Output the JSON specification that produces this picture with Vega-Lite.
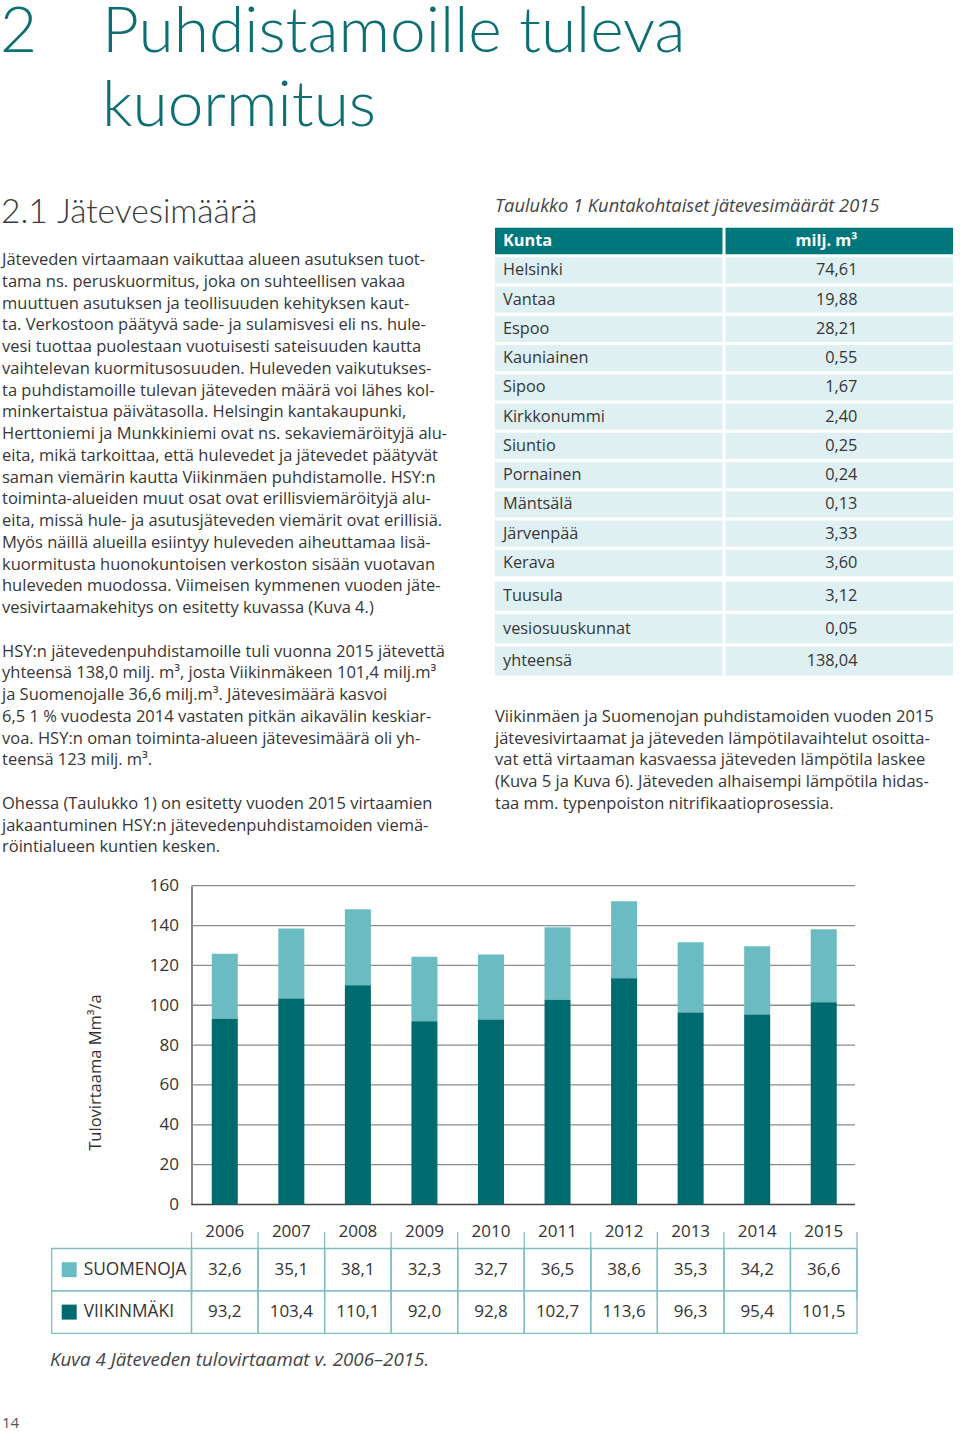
{
  "$schema": "https://vega.github.io/schema/vega-lite/v6.json",
  "width": 960,
  "height": 1431,
  "autosize": {"type": "fit", "contains": "padding"},
  "padding": 0,
  "background": "#ffffff",
  "config": {
    "view": {"stroke": null},
    "locale": {"number": {"decimal": ",", "thousands": "\u00a0", "grouping": [3], "currency": ["", "\u00a0€"]}},
    "text": {"font": "Open Sans", "fontSize": 16.5, "color": "#363636"}
  },
  "datasets": {
    "flow": [
      {"year": "2006", "series": "SUOMENOJA", "value": 32.6},
      {"year": "2006", "series": "VIIKINMÄKI", "value": 93.2},
      {"year": "2007", "series": "SUOMENOJA", "value": 35.1},
      {"year": "2007", "series": "VIIKINMÄKI", "value": 103.4},
      {"year": "2008", "series": "SUOMENOJA", "value": 38.1},
      {"year": "2008", "series": "VIIKINMÄKI", "value": 110.1},
      {"year": "2009", "series": "SUOMENOJA", "value": 32.3},
      {"year": "2009", "series": "VIIKINMÄKI", "value": 92.0},
      {"year": "2010", "series": "SUOMENOJA", "value": 32.7},
      {"year": "2010", "series": "VIIKINMÄKI", "value": 92.8},
      {"year": "2011", "series": "SUOMENOJA", "value": 36.5},
      {"year": "2011", "series": "VIIKINMÄKI", "value": 102.7},
      {"year": "2012", "series": "SUOMENOJA", "value": 38.6},
      {"year": "2012", "series": "VIIKINMÄKI", "value": 113.6},
      {"year": "2013", "series": "SUOMENOJA", "value": 35.3},
      {"year": "2013", "series": "VIIKINMÄKI", "value": 96.3},
      {"year": "2014", "series": "SUOMENOJA", "value": 34.2},
      {"year": "2014", "series": "VIIKINMÄKI", "value": 95.4},
      {"year": "2015", "series": "SUOMENOJA", "value": 36.6},
      {"year": "2015", "series": "VIIKINMÄKI", "value": 101.5}
    ],
    "kunta": [
      {"kunta": "Kunta", "val": null, "unit": "milj. m³", "part": "A", "kind": "head"},
      {"kunta": "Helsinki", "val": 74.61, "part": "A", "kind": "row"},
      {"kunta": "Vantaa", "val": 19.88, "part": "A", "kind": "row"},
      {"kunta": "Espoo", "val": 28.21, "part": "A", "kind": "row"},
      {"kunta": "Kauniainen", "val": 0.55, "part": "A", "kind": "row"},
      {"kunta": "Sipoo", "val": 1.67, "part": "A", "kind": "row"},
      {"kunta": "Kirkkonummi", "val": 2.40, "part": "A", "kind": "row"},
      {"kunta": "Siuntio", "val": 0.25, "part": "A", "kind": "row"},
      {"kunta": "Pornainen", "val": 0.24, "part": "A", "kind": "row"},
      {"kunta": "Mäntsälä", "val": 0.13, "part": "A", "kind": "row"},
      {"kunta": "Järvenpää", "val": 3.33, "part": "A", "kind": "row"},
      {"kunta": "Kerava", "val": 3.60, "part": "A", "kind": "row"},
      {"kunta": "Tuusula", "val": 3.12, "part": "B", "kind": "row"},
      {"kunta": "vesiosuuskunnat", "val": 0.05, "part": "B", "kind": "row"},
      {"kunta": "yhteensä", "val": 138.04, "part": "B", "kind": "row"}
    ],
    "body": [
      {"block": "L", "ln": 0, "t": "Jäteveden virtaamaan vaikuttaa alueen asutuksen tuot-"},
      {"block": "L", "ln": 1, "t": "tama ns. peruskuormitus, joka on suhteellisen vakaa"},
      {"block": "L", "ln": 2, "t": "muuttuen asutuksen ja teollisuuden kehityksen kaut-"},
      {"block": "L", "ln": 3, "t": "ta. Verkostoon päätyvä sade- ja sulamisvesi eli ns. hule-"},
      {"block": "L", "ln": 4, "t": "vesi tuottaa puolestaan vuotuisesti sateisuuden kautta"},
      {"block": "L", "ln": 5, "t": "vaihtelevan kuormitusosuuden. Huleveden vaikutukses-"},
      {"block": "L", "ln": 6, "t": "ta puhdistamoille tulevan jäteveden määrä voi lähes kol-"},
      {"block": "L", "ln": 7, "t": "minkertaistua päivätasolla. Helsingin kantakaupunki,"},
      {"block": "L", "ln": 8, "t": "Herttoniemi ja Munkkiniemi ovat ns. sekaviemäröityjä alu-"},
      {"block": "L", "ln": 9, "t": "eita, mikä tarkoittaa, että hulevedet ja jätevedet päätyvät"},
      {"block": "L", "ln": 10, "t": "saman viemärin kautta Viikinmäen puhdistamolle. HSY:n"},
      {"block": "L", "ln": 11, "t": "toiminta-alueiden muut osat ovat erillisviemäröityjä alu-"},
      {"block": "L", "ln": 12, "t": "eita, missä hule- ja asutusjäteveden viemärit ovat erillisiä."},
      {"block": "L", "ln": 13, "t": "Myös näillä alueilla esiintyy huleveden aiheuttamaa lisä-"},
      {"block": "L", "ln": 14, "t": "kuormitusta huonokuntoisen verkoston sisään vuotavan"},
      {"block": "L", "ln": 15, "t": "huleveden muodossa. Viimeisen kymmenen vuoden jäte-"},
      {"block": "L", "ln": 16, "t": "vesivirtaamakehitys on esitetty kuvassa (Kuva 4.)"},
      {"block": "L", "ln": 18, "t": "HSY:n jätevedenpuhdistamoille tuli vuonna 2015 jätevettä"},
      {"block": "L", "ln": 19, "t": "yhteensä 138,0 milj. m³, josta Viikinmäkeen 101,4 milj.m³"},
      {"block": "L", "ln": 20, "t": "ja Suomenojalle 36,6 milj.m³. Jätevesimäärä kasvoi"},
      {"block": "L", "ln": 21, "t": "6,5 1 % vuodesta 2014 vastaten pitkän aikavälin keskiar-"},
      {"block": "L", "ln": 22, "t": "voa. HSY:n oman toiminta-alueen jätevesimäärä oli yh-"},
      {"block": "L", "ln": 23, "t": "teensä 123 milj. m³."},
      {"block": "L", "ln": 25, "t": "Ohessa (Taulukko 1) on esitetty vuoden 2015 virtaamien"},
      {"block": "L", "ln": 26, "t": "jakaantuminen HSY:n jätevedenpuhdistamoiden viemä-"},
      {"block": "L", "ln": 27, "t": "röintialueen kuntien kesken."},
      {"block": "R", "ln": 21, "t": "Viikinmäen ja Suomenojan puhdistamoiden vuoden 2015"},
      {"block": "R", "ln": 22, "t": "jätevesivirtaamat ja jäteveden lämpötilavaihtelut osoitta-"},
      {"block": "R", "ln": 23, "t": "vat että virtaaman kasvaessa jäteveden lämpötila laskee"},
      {"block": "R", "ln": 24, "t": "(Kuva 5 ja Kuva 6). Jäteveden alhaisempi lämpötila hidas-"},
      {"block": "R", "ln": 25, "t": "taa mm. typenpoiston nitrifikaatioprosessia."}
    ],
    "ticks": [{"v": 0}, {"v": 20}, {"v": 40}, {"v": 60}, {"v": 80}, {"v": 100}, {"v": 120}, {"v": 140}, {"v": 160}]
  },
  "layer": [
    {
      "data": {"values": [{"part": "num", "ln": 0, "t": "2"}, {"part": "head", "ln": 0, "t": "Puhdistamoille tuleva"}, {"part": "head", "ln": 1, "t": "kuormitus"}]},
      "mark": {"type": "text", "font": "Lato", "fontWeight": 300, "fontSize": 64, "color": "#0d6e73", "align": "left", "baseline": "alphabetic"},
      "encoding": {
        "x": {"field": "part", "type": "nominal", "sort": null, "scale": {"type": "point", "domain": ["num", "head"], "range": [0, 102], "padding": 0}, "axis": null},
        "y": {"field": "ln", "type": "quantitative", "scale": {"domain": [0, 1], "range": [52, 126], "nice": false, "zero": false}, "axis": null},
        "text": {"field": "t"}
      }
    },
    {
      "data": {"values": [{"part": "num", "t": "2.1"}, {"part": "head", "t": "Jätevesimäärä"}]},
      "mark": {"type": "text", "font": "Lato", "fontWeight": 300, "fontSize": 33.5, "color": "#3a3a3a", "align": "left", "baseline": "alphabetic"},
      "encoding": {
        "x": {"field": "part", "type": "nominal", "sort": null, "scale": {"type": "point", "domain": ["num", "head"], "range": [1, 57], "padding": 0}, "axis": null},
        "y": {"datum": 0, "type": "quantitative", "scale": {"domain": [0, 1], "range": [223, 300], "nice": false}, "axis": null},
        "text": {"field": "t"}
      }
    },
    {
      "data": {"name": "body"},
      "mark": {"type": "text", "align": "left", "baseline": "middle", "fontSize": 16.5},
      "encoding": {
        "x": {"field": "block", "type": "nominal", "scale": {"type": "point", "domain": ["L", "R"], "range": [2, 495], "padding": 0}, "axis": null},
        "y": {"field": "ln", "type": "quantitative", "scale": {"domain": [0, 27], "range": [260, 847.25], "nice": false, "zero": false}, "axis": null},
        "text": {"field": "t"}
      }
    },
    {
      "data": {"values": [{"t": "Taulukko 1 Kuntakohtaiset jätevesimäärät 2015"}]},
      "mark": {"type": "text", "align": "left", "baseline": "middle", "fontSize": 18.3, "fontStyle": "italic", "color": "#444444"},
      "encoding": {
        "x": {"datum": 0, "type": "quantitative", "scale": {"domain": [0, 1], "range": [495, 600]}, "axis": null},
        "y": {"datum": 0, "type": "quantitative", "scale": {"domain": [0, 1], "range": [207, 300]}, "axis": null},
        "text": {"field": "t"}
      }
    },
    {
      "data": {"name": "kunta"},
      "transform": [{"filter": "datum.part === 'A'"}],
      "encoding": {
        "y": {"field": "kunta", "type": "nominal", "sort": null, "scale": {"range": [226.4, 577.6], "paddingInner": 0.1, "paddingOuter": 0.05}, "axis": null}
      },
      "layer": [
        {"mark": {"type": "rect"}, "encoding": {
          "x": {"datum": "k", "type": "nominal", "scale": {"domain": ["k", "v"], "range": [495, 953], "paddingInner": 0.013, "paddingOuter": 0}, "axis": null},
          "color": {"condition": {"test": "datum.kind === 'head'", "value": "#00777b"}, "value": "#dff0f3"}}},
        {"mark": {"type": "rect"}, "encoding": {
          "x": {"datum": "v", "type": "nominal", "scale": {"domain": ["k", "v"], "range": [495, 953], "paddingInner": 0.013, "paddingOuter": 0}, "axis": null},
          "color": {"condition": {"test": "datum.kind === 'head'", "value": "#00777b"}, "value": "#dff0f3"}}},
        {"transform": [{"filter": "datum.kind !== 'head'"}], "mark": {"type": "text", "align": "left", "dx": 8, "fontSize": 16.3}, "encoding": {
          "x": {"datum": "k", "type": "nominal", "bandPosition": 0, "axis": null},
          "text": {"field": "kunta"}}},
        {"transform": [{"filter": "datum.kind !== 'head'"}], "mark": {"type": "text", "align": "right", "fontSize": 16.3}, "encoding": {
          "x": {"datum": "v", "type": "nominal", "bandPosition": 0.58, "axis": null},
          "text": {"field": "val", "type": "quantitative", "format": ".2f"}}},
        {"transform": [{"filter": "datum.kind === 'head'"}], "mark": {"type": "text", "align": "left", "dx": 8, "fontSize": 16.3, "fontWeight": "bold", "color": "#ffffff"}, "encoding": {
          "x": {"datum": "k", "type": "nominal", "bandPosition": 0, "axis": null},
          "text": {"field": "kunta"}}},
        {"transform": [{"filter": "datum.kind === 'head'"}], "mark": {"type": "text", "align": "right", "fontSize": 16.3, "fontWeight": "bold", "color": "#ffffff"}, "encoding": {
          "x": {"datum": "v", "type": "nominal", "bandPosition": 0.58, "axis": null},
          "text": {"field": "unit"}}}
      ]
    },
    {
      "data": {"name": "kunta"},
      "transform": [{"filter": "datum.part === 'B'"}],
      "encoding": {
        "y": {"field": "kunta", "type": "nominal", "sort": null, "scale": {"range": [579.75, 677.25], "paddingInner": 0.1, "paddingOuter": 0.05}, "axis": null}
      },
      "layer": [
        {"mark": {"type": "rect", "color": "#dff0f3"}, "encoding": {
          "x": {"datum": "k", "type": "nominal", "scale": {"domain": ["k", "v"], "range": [495, 953], "paddingInner": 0.013, "paddingOuter": 0}, "axis": null}}},
        {"mark": {"type": "rect", "color": "#dff0f3"}, "encoding": {
          "x": {"datum": "v", "type": "nominal", "scale": {"domain": ["k", "v"], "range": [495, 953], "paddingInner": 0.013, "paddingOuter": 0}, "axis": null}}},
        {"mark": {"type": "text", "align": "left", "dx": 8, "fontSize": 16.3}, "encoding": {
          "x": {"datum": "k", "type": "nominal", "bandPosition": 0, "axis": null},
          "text": {"field": "kunta"}}},
        {"mark": {"type": "text", "align": "right", "fontSize": 16.3}, "encoding": {
          "x": {"datum": "v", "type": "nominal", "bandPosition": 0.58, "axis": null},
          "text": {"field": "val", "type": "quantitative", "format": ".2f"}}}
      ]
    },
    {
      "data": {"name": "ticks"},
      "mark": {"type": "rule", "strokeWidth": 1.3},
      "encoding": {
        "x": {"datum": 0, "type": "quantitative", "scale": {"domain": [0, 1], "range": [191.5, 855]}, "axis": null},
        "x2": {"datum": 1},
        "y": {"field": "v", "type": "quantitative", "scale": {"domain": [0, 160], "range": [1204.5, 885.7], "nice": false}, "axis": null},
        "color": {"condition": {"test": "datum.v === 0", "value": "#444444"}, "value": "#8c8c8c"}
      }
    },
    {
      "data": {"name": "flow"},
      "mark": {"type": "bar"},
      "encoding": {
        "x": {"field": "year", "type": "ordinal", "scale": {"range": [191.5, 857], "paddingInner": 0.609, "paddingOuter": 0.3045}, "axis": null},
        "y": {"field": "value", "type": "quantitative", "stack": "zero",
          "scale": {"domain": [0, 160], "range": [1204.5, 885.7], "nice": false},
          "axis": {"orient": "left", "offset": -191.5, "values": [0, 20, 40, 60, 80, 100, 120, 140, 160],
            "domain": true, "domainColor": "#444444", "domainWidth": 1.3, "ticks": false, "tickSize": 0, "grid": false,
            "labelPadding": 13, "labelFontSize": 17, "labelFont": "Open Sans", "labelColor": "#333333",
            "title": "Tulovirtaama Mm³/a", "titleFont": "Open Sans", "titleFontSize": 16.5, "titleFontWeight": "normal", "titleColor": "#333333",
            "titleX": -96.5, "titleY": 1072, "titleAngle": -90, "titleAlign": "center", "titleBaseline": "middle"}},
        "color": {"field": "series", "type": "nominal", "scale": {"domain": ["VIIKINMÄKI", "SUOMENOJA"], "range": ["#006b6f", "#6bbcc2"]}, "legend": null},
        "order": {"field": "series", "sort": "descending"}
      }
    },
    {
      "data": {"name": "flow"},
      "encoding": {
        "x": {"field": "year", "type": "ordinal", "scale": {"range": [191.5, 857], "paddingInner": 0, "paddingOuter": 0}, "axis": null},
        "y": {"field": "series", "type": "nominal", "scale": {"domain": ["SUOMENOJA", "VIIKINMÄKI"], "range": [1248.5, 1333.3], "paddingInner": 0, "paddingOuter": 0}, "axis": null}
      },
      "layer": [
        {"mark": {"type": "rect", "fill": "transparent", "stroke": "#7fbfc3", "strokeWidth": 1.3}},
        {"mark": {"type": "text", "align": "center", "baseline": "middle", "fontSize": 17, "color": "#333333"},
          "encoding": {"text": {"field": "value", "type": "quantitative", "format": ".1f"}}}
      ]
    },
    {
      "data": {"name": "flow"},
      "transform": [{"filter": "datum.series === 'SUOMENOJA'"}],
      "encoding": {
        "x": {"field": "year", "type": "ordinal", "scale": {"range": [191.5, 857], "paddingInner": 0, "paddingOuter": 0}, "axis": null}
      },
      "layer": [
        {"mark": {"type": "text", "align": "center", "baseline": "middle", "fontSize": 17, "color": "#333333"},
          "encoding": {
            "y": {"datum": 0, "type": "quantitative", "scale": {"domain": [0, 1], "range": [1232, 1300]}, "axis": null},
            "text": {"field": "year"}}},
        {"mark": {"type": "rule", "stroke": "#7fbfc3", "strokeWidth": 1.3},
          "encoding": {
            "x": {"field": "year", "type": "ordinal", "bandPosition": 0, "axis": null},
            "y": {"datum": 0, "type": "quantitative", "scale": {"domain": [0, 1], "range": [1211.7, 1248.5]}, "axis": null},
            "y2": {"datum": 1}}},
        {"transform": [{"filter": "datum.year === '2015'"}], "mark": {"type": "rule", "stroke": "#7fbfc3", "strokeWidth": 1.3},
          "encoding": {
            "x": {"field": "year", "type": "ordinal", "bandPosition": 1, "axis": null},
            "y": {"datum": 0, "type": "quantitative", "axis": null},
            "y2": {"datum": 1}}}
      ]
    },
    {
      "data": {"name": "flow"},
      "transform": [{"filter": "datum.year === '2006'"}],
      "encoding": {
        "x": {"datum": 0, "type": "quantitative", "scale": {"domain": [0, 1], "range": [51.7, 191.5]}, "axis": null},
        "y": {"field": "series", "type": "nominal", "scale": {"domain": ["SUOMENOJA", "VIIKINMÄKI"], "range": [1248.5, 1333.3], "paddingInner": 0, "paddingOuter": 0}, "axis": null}
      },
      "layer": [
        {"mark": {"type": "rect", "fill": "transparent", "stroke": "#7fbfc3", "strokeWidth": 1.3}, "encoding": {"x2": {"datum": 1}}},
        {"mark": {"type": "point", "shape": "square", "filled": true, "size": 225, "opacity": 1, "xOffset": 17.5},
          "encoding": {"color": {"field": "series", "type": "nominal", "scale": {"domain": ["VIIKINMÄKI", "SUOMENOJA"], "range": ["#006b6f", "#6bbcc2"]}, "legend": null}}},
        {"mark": {"type": "text", "align": "left", "baseline": "middle", "dx": 32, "fontSize": 17.3, "color": "#333333"},
          "encoding": {"text": {"field": "series"}}}
      ]
    },
    {
      "data": {"values": [{"t": "Kuva 4 Jäteveden tulovirtaamat v. 2006–2015."}]},
      "mark": {"type": "text", "align": "left", "baseline": "middle", "fontSize": 18.8, "fontStyle": "italic", "color": "#444444"},
      "encoding": {
        "x": {"datum": 0, "type": "quantitative", "scale": {"domain": [0, 1], "range": [50, 100]}, "axis": null},
        "y": {"datum": 0, "type": "quantitative", "scale": {"domain": [0, 1], "range": [1360, 1400]}, "axis": null},
        "text": {"field": "t"}
      }
    },
    {
      "data": {"values": [{"t": "14"}]},
      "mark": {"type": "text", "align": "left", "baseline": "middle", "fontSize": 15, "color": "#555555"},
      "encoding": {
        "x": {"datum": 0, "type": "quantitative", "scale": {"domain": [0, 1], "range": [2, 50]}, "axis": null},
        "y": {"datum": 0, "type": "quantitative", "scale": {"domain": [0, 1], "range": [1423, 1430]}, "axis": null},
        "text": {"field": "t"}
      }
    }
  ],
  "resolve": {"scale": {"x": "independent", "y": "independent"}}
}
